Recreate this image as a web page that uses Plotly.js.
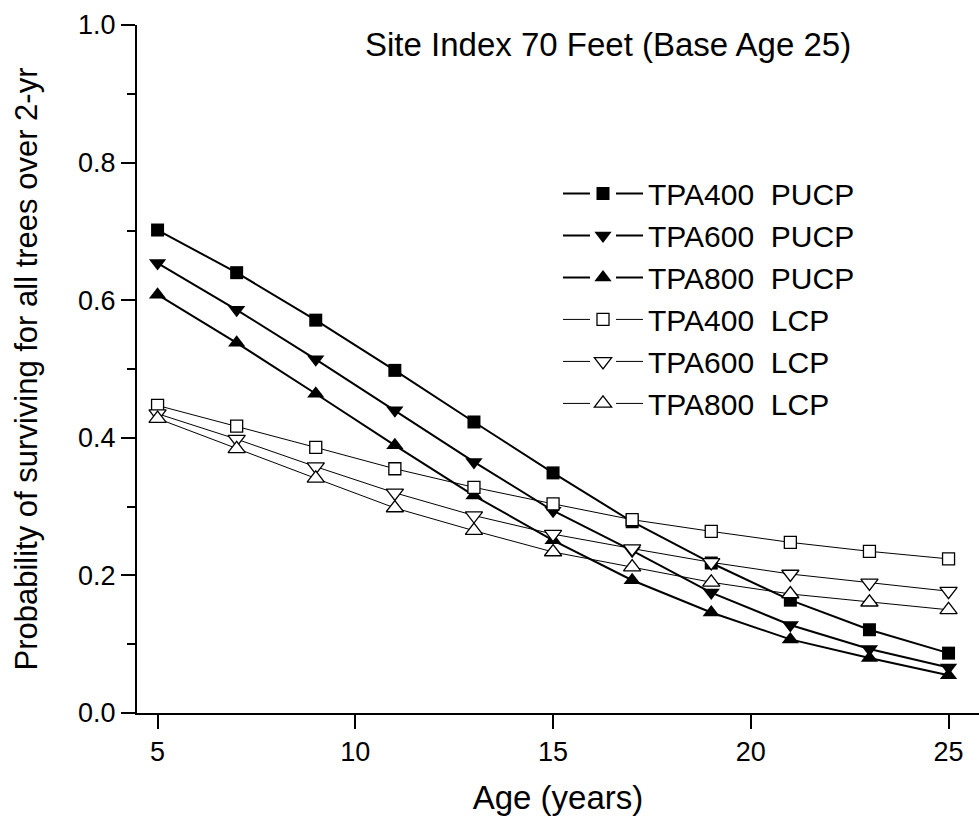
<!DOCTYPE html>
<html>
<head>
<meta charset="utf-8">
<script src="https://cdn.plot.ly/plotly-3.0.1.min.js"></script>
<style>html,body{margin:0;padding:0;background:#fff}#chart{width:979px;height:816px}</style>
</head>
<body>
<div id="chart"></div>
<script>
var ages = [5, 7, 9, 11, 13, 15, 17, 19, 21, 23, 25];
var tpa400Pucp = [0.702, 0.640, 0.571, 0.498, 0.423, 0.349, 0.278, 0.218, 0.164, 0.121, 0.087];
var tpa600Pucp = [0.654, 0.586, 0.514, 0.440, 0.365, 0.294, 0.236, 0.175, 0.128, 0.093, 0.066];
var tpa800Pucp = [0.608, 0.538, 0.464, 0.389, 0.316, 0.251, 0.193, 0.146, 0.107, 0.080, 0.055];
var tpa400Lcp = [0.447, 0.417, 0.386, 0.355, 0.328, 0.304, 0.281, 0.264, 0.248, 0.235, 0.224];
var tpa600Lcp = [0.435, 0.398, 0.358, 0.320, 0.287, 0.260, 0.239, 0.219, 0.202, 0.189, 0.177];
var tpa800Lcp = [0.428, 0.384, 0.341, 0.298, 0.265, 0.234, 0.212, 0.190, 0.173, 0.161, 0.150];
var seriesNames = ['TPA400\u00a0 PUCP', 'TPA600\u00a0 PUCP', 'TPA800\u00a0 PUCP',
                   'TPA400\u00a0 LCP', 'TPA600\u00a0 LCP', 'TPA800\u00a0 LCP'];
var xTicks = [5, 10, 15, 20, 25];
var yTicks = [0, 0.2, 0.4, 0.6, 0.8, 1.0];
var yTickText = ['0.0', '0.2', '0.4', '0.6', '0.8', '1.0'];
var yMinorTicks = [0.1, 0.3, 0.5, 0.7, 0.9];
var chartTitle = 'Site Index 70 Feet (Base Age 25)';
var xTitle = 'Age (years)';
var yTitle = 'Probability of surviving for all trees over 2-yr';

var FONT = '"Liberation Sans", Arial, Helvetica, sans-serif';

function mk(y, name, symbol, filled, size, lw) {
  return {
    x: ages, y: y, name: name, type: 'scatter', mode: 'lines+markers',
    line: {color: 'black', width: lw},
    marker: {symbol: symbol, size: size, color: filled ? 'black' : 'white',
             line: {color: 'black', width: filled ? 0 : 1.3}}
  };
}

var data = [
  mk(tpa400Pucp, seriesNames[0], 'square', true, 13, 2),
  mk(tpa600Pucp, seriesNames[1], 'triangle-down', true, 15, 2),
  mk(tpa800Pucp, seriesNames[2], 'triangle-up', true, 15, 2),
  mk(tpa400Lcp, seriesNames[3], 'square', false, 12, 1),
  mk(tpa600Lcp, seriesNames[4], 'triangle-down', false, 15, 1),
  mk(tpa800Lcp, seriesNames[5], 'triangle-up', false, 15, 1)
];

var layout = {
  width: 979, height: 816,
  margin: {l: 137, r: 0, t: 25, b: 103},
  paper_bgcolor: 'white', plot_bgcolor: 'white',
  font: {family: FONT, color: 'black'},
  showlegend: true,
  legend: {
    x: 0.5, y: 0.793, xanchor: 'left', yanchor: 'top',
    bgcolor: 'rgba(0,0,0,0)', font: {size: 30, family: FONT},
    itemsizing: 'trace', itemwidth: 80, tracegroupgap: 0
  },
  xaxis: {
    range: [4.48, 25.77], showgrid: false, zeroline: false,
    showline: true, linecolor: 'black', linewidth: 2,
    ticks: 'outside', ticklen: 14, tickwidth: 2, tickcolor: 'black',
    tickmode: 'array', tickvals: xTicks,
    tickfont: {size: 27, family: FONT},
    title: {text: xTitle, font: {size: 33, family: FONT}, standoff: 20}
  },
  yaxis: {
    range: [0, 1], showgrid: false, zeroline: false,
    showline: true, linecolor: 'black', linewidth: 2,
    ticks: 'outside', ticklen: 14, tickwidth: 2, tickcolor: 'black',
    tickmode: 'array', tickvals: yTicks, ticktext: yTickText,
    tickfont: {size: 27, family: FONT},
    minor: {tickmode: 'array', tickvals: yMinorTicks, ticks: 'outside', ticklen: 8, tickwidth: 2, tickcolor: 'black', showgrid: false},
    title: {text: yTitle, font: {size: 31, family: FONT}, standoff: 31}
  },
  annotations: [{
    text: chartTitle, xref: 'paper', yref: 'paper', x: 0.559, y: 0.971,
    xanchor: 'center', yanchor: 'middle', showarrow: false,
    font: {size: 33, family: FONT, color: 'black'}
  }]
};

// Break each legend sample line on both sides of its marker (Origin-style "—■—").
function splitLegendLines() {
  var paths = document.querySelectorAll('.legend path');
  for (var i = 0; i < paths.length; i++) {
    var p = paths[i];
    var d = p.getAttribute('d') || '';
    var m = /^M\s*([\d.\-]+)\s*,\s*0\s*h\s*([\d.]+)\s*$/.exec(d);
    if (!m) continue;
    var x0 = parseFloat(m[1]), w = parseFloat(m[2]);
    var cx = x0 + w / 2, g = 13;
    p.setAttribute('d', 'M' + x0 + ',0H' + (cx - g) + 'M' + (cx + g) + ',0H' + (x0 + w));
  }
}

var gdEl = document.getElementById('chart');
var pr = Plotly.newPlot(gdEl, data, layout, {displayModeBar: false, staticPlot: true});
splitLegendLines();
if (pr && pr.then) pr.then(splitLegendLines);
setTimeout(splitLegendLines, 0);
setTimeout(splitLegendLines, 100);
</script>
</body>
</html>
